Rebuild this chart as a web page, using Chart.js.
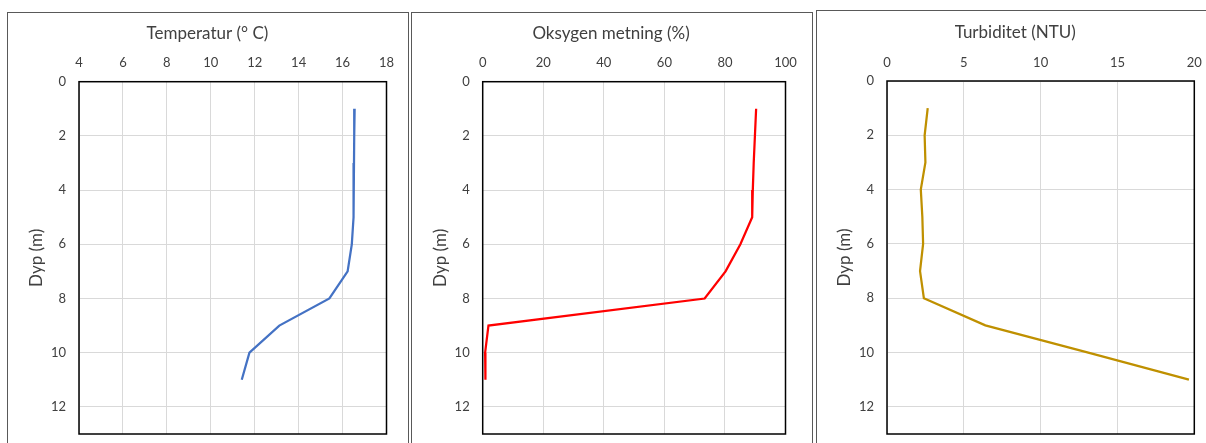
<!DOCTYPE html>
<html>
<head>
<meta charset="utf-8">
<script src="https://cdn.jsdelivr.net/npm/chart.js@4.4.1/dist/chart.umd.min.js"></script>
<style>
  html, body { margin: 0; padding: 0; background: #fff; width: 1206px; height: 443px; overflow: hidden; }
  .panel { position: absolute; border: 1px solid #595959; box-sizing: border-box; height: 460px; }
  canvas { position: absolute; top: 0; }
</style>
</head>
<body>
<div class="panel" style="left:7px; top:12px; width:402px;"></div>
<div class="panel" style="left:411px; top:12px; width:402px;"></div>
<div class="panel" style="left:816px; top:10px; width:402px;"></div>
<canvas id="temp"></canvas>
<canvas id="oxy"></canvas>
<canvas id="turb"></canvas>
<script>
// dybde (m) for hver måling
const depths = [1, 2, 3, 4, 5, 6, 7, 8, 9, 10, 11];
const temperature = [16.55, 16.53, 16.52, 16.51, 16.49, 16.42, 16.23, 15.4, 13.12, 11.76, 11.41];
const oxygen = [90.3, 89.9, 89.5, 89.2, 89.0, 85.1, 80.2, 73.3, 1.9, 0.8, 0.9];
const turbidity = [2.65, 2.45, 2.5, 2.2, 2.3, 2.35, 2.15, 2.4, 6.4, 13.1, 19.65];

const depthTicks = [0, 2, 4, 6, 8, 10, 12];
const depthMax = 13;

const TEXT = "#404040";
const GRID = "#d9d9d9";
const FONT = "Lato, 'Open Sans', sans-serif";

// svart ramme rundt plottområdet
const plotFrame = {
  id: "plotFrame",
  beforeDatasetsDraw(chart) {
    const { ctx, chartArea: a } = chart;
    ctx.save();
    ctx.strokeStyle = "#000";
    ctx.lineWidth = 1.5;
    ctx.strokeRect(a.left, a.top, a.right - a.left, a.bottom - a.top);
    ctx.restore();
  }
};

function renderProfile(id, opts) {
  const canvas = document.getElementById(id);
  canvas.width = opts.w;
  canvas.height = 443;
  canvas.style.left = opts.left + "px";
  canvas.style.width = opts.w + "px";
  canvas.style.height = "443px";

  return new Chart(canvas.getContext("2d"), {
    type: "scatter",
    data: {
      datasets: [{
        data: opts.values.map((v, i) => ({ x: v, y: depths[i] })),
        showLine: true,
        borderColor: opts.color,
        backgroundColor: opts.color,
        borderWidth: 2.25,
        pointRadius: 0,
        tension: 0
      }]
    },
    options: {
      responsive: false,
      animation: false,
      devicePixelRatio: 1,
      layout: { padding: { left: opts.pl, right: opts.pr, top: 0, bottom: 9 } },
      plugins: {
        legend: { display: false },
        tooltip: { enabled: false },
        title: {
          display: true,
          text: opts.title,
          color: TEXT,
          font: { family: FONT, size: 17, weight: "normal", lineHeight: 1.2 },
          padding: { top: opts.titleTop, bottom: 0 }
        }
      },
      scales: {
        x: {
          type: "linear",
          position: "top",
          min: opts.xMin,
          max: opts.xMax,
          ticks: { stepSize: opts.xStep, padding: 0, color: TEXT, font: { family: FONT, size: 13 } },
          // usynlige tick-streker gir avstand uten å øke layout-padding
          grid: { color: GRID, drawTicks: true, tickLength: opts.tickPad, tickColor: "rgba(0,0,0,0)" },
          border: { display: false },
          afterFit: (s) => { s.height = opts.xH; }
        },
        y: {
          type: "linear",
          reverse: true,
          min: 0,
          max: depthMax,
          ticks: { stepSize: 2, padding: 0, color: TEXT, font: { family: FONT, size: 13 } },
          afterBuildTicks: (s) => { s.ticks = depthTicks.map((v) => ({ value: v })); },
          grid: { color: GRID, drawTicks: true, tickLength: 13, tickColor: "rgba(0,0,0,0)" },
          border: { display: false },
          title: {
            display: true,
            text: "Dyp (m)",
            color: TEXT,
            font: { family: FONT, size: 17, lineHeight: 1 },
            padding: { top: opts.yTitlePad, bottom: 0 }
          },
          afterFit: (s) => { s.width = opts.yW; }
        }
      }
    },
    plugins: [plotFrame]
  });
}

renderProfile("temp", {
  title: "Temperatur (° C)", values: temperature, color: "#4472c4",
  xMin: 4, xMax: 18, xStep: 2,
  left: 18, w: 379, pl: 10.5, pr: 10.5, yW: 50.5, yTitlePad: -0.7,
  titleTop: 23.8, xH: 37.5, tickPad: 11.4
});

renderProfile("oxy", {
  title: "Oksygen metning (%)", values: oxygen, color: "#ff0000",
  xMin: 0, xMax: 100, xStep: 20,
  left: 426, w: 371, pl: 10.6, pr: 11.5, yW: 46.1, yTitlePad: -4.6,
  titleTop: 23.6, xH: 37.7, tickPad: 11.4
});

renderProfile("turb", {
  title: "Turbiditet (NTU)", values: turbidity, color: "#bf9000",
  xMin: 0, xMax: 20, xStep: 5,
  left: 826, w: 378, pl: 10.1, pr: 9.7, yW: 50.9, yTitlePad: -0.4,
  titleTop: 22.6, xH: 38, tickPad: 10.7
});
</script>
</body>
</html>
